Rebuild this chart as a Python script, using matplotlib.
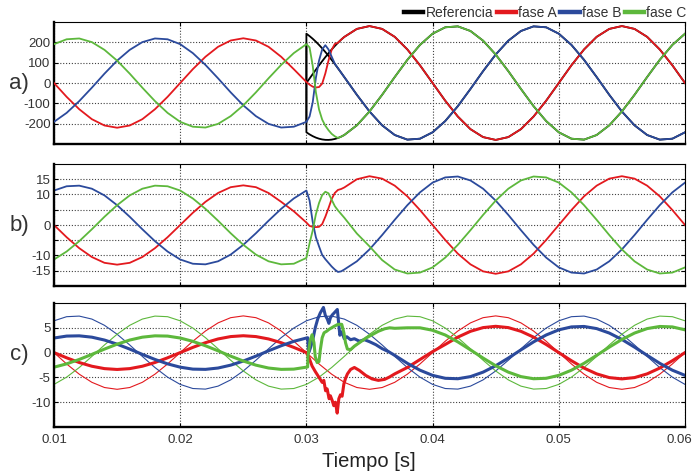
import matplotlib
matplotlib.use('Agg')
import matplotlib.pyplot as plt
from matplotlib.transforms import ScaledTranslation

plt.rcParams['font.family'] = ['Liberation Sans', 'DejaVu Sans']

RED = '#e3191e'
BLUE = '#2b4a9c'
GREEN = '#5db83c'
TXT = '#333333'

# ---------------------------------------------------------------
# time bases [s]
t_pre = [0.010, 0.011, 0.012, 0.013, 0.014, 0.015, 0.016, 0.017, 0.018, 0.019,
         0.020, 0.021, 0.022, 0.023, 0.024, 0.025, 0.026, 0.027, 0.028, 0.029]
t_tr = [0.030, 0.03025, 0.0305, 0.03075, 0.031, 0.03125, 0.0315, 0.03175,
        0.032, 0.03225, 0.0325, 0.03275, 0.033]
t_post = [0.034, 0.035, 0.036, 0.037, 0.038, 0.039, 0.040, 0.041, 0.042,
          0.043, 0.044, 0.045, 0.046, 0.047, 0.048, 0.049, 0.050, 0.051,
          0.052, 0.053, 0.054, 0.055, 0.056, 0.057, 0.058, 0.059, 0.060]
t_ref_tr = [0.030, 0.030, 0.03025, 0.0305, 0.03075, 0.031, 0.03125, 0.0315,
            0.03175, 0.032, 0.03225, 0.0325, 0.03275, 0.033]

# ---------------------------------------------------------------
# a) voltages
a_red_pre = [0, -68, -129, -178, -209, -220, -209, -178, -129, -68,
             0, 68, 129, 178, 209, 220, 209, 178, 129, 68]
a_red_tr = [5, -8, -18, -22, -20, -3, 47, 110, 163, 192, 198, 213, 226.5]
a_red_post = [266, 280, 266, 227, 165, 87, 0, -87, -165, -227, -266, -280, -266,
              -227, -165, -87, 0, 87, 165, 227, 266, 280, 266, 227, 165, 87, 0]

a_blue_pre = [-191, -147, -89, -23, 46, 110, 163, 201, 219, 215,
              191, 147, 89, 23, -46, -110, -163, -201, -219, -215]
a_blue_tr = [-191, -165, -95, 25, 110, 165, 186, 165, 130, 95, 72.5, 51, 29.3]
a_blue_post = [-58.2, -140, -208.1, -255.8, -278.5, -273.9, -242.5, -187.3, -113.9,
               -29.3, 58.2, 140, 208.1, 255.8, 278.5, 273.9, 242.5, 187.3, 113.9,
               29.3, -58.2, -140, -208.1, -255.8, -278.5, -273.9, -242.5]

a_green_pre = [191, 215, 219, 201, 163, 110, 46, -23, -89, -147,
               -191, -215, -219, -201, -163, -110, -46, 23, 89, 147]
a_green_tr = [191, 175, 85, -45, -130, -180, -210, -232, -250, -262, -270.5, -263.9, -255.8]
a_green_post = [-208.1, -140, -58.2, 29.3, 113.9, 187.3, 242.5, 273.9, 278.5, 255.8,
                208.1, 140, 58.2, -29.3, -113.9, -187.3, -242.5, -273.9, -278.5,
                -255.8, -208.1, -140, -58.2, 29.3, 113.9, 187.3, 242.5]

ref_a_tr = [0, 0, 22, 43.8, 65.4, 86.5, 107.2, 127.1, 146.3, 164.6, 181.8, 198, 212.9, 226.5]
ref_b_tr = [-191, 242.5, 230.7, 217.6, 203.1, 187.3, 170.5, 152.5, 133.6, 113.9,
            93.5, 72.5, 51.0, 29.3]
ref_c_tr = [191, -242.5, -252.7, -261.4, -268.5, -273.9, -277.6, -279.6, -279.9,
            -278.5, -275.3, -270.5, -263.9, -255.8]

# ---------------------------------------------------------------
# b) currents
b_red_pre = [0, -4.0, -7.6, -10.5, -12.4, -13, -12.4, -10.5, -7.6, -4.0,
             0, 4.0, 7.6, 10.5, 12.4, 13, 12.4, 10.5, 7.6, 4.5]
b_red_tr = [0.8, -0.3, -0.6, -0.7, -0.6, 0.3, 2.7, 5.5, 8.5, 10.5, 11.5, 11.8, 12.3]
b_red_post = [15.0, 16, 15.2, 12.9, 9.4, 4.9, 0, -4.9, -9.4, -12.9, -15.2, -16, -15.2,
              -12.9, -9.4, -4.9, 0, 4.9, 9.4, 12.9, 15.2, 16, 15.2, 12.9, 9.4, 4.9, 0]

b_blue_pre = [11.3, 12.7, 12.9, 11.9, 9.7, 6.5, 2.7, -1.4, -5.3, -8.7,
              -11.3, -12.7, -12.9, -11.9, -9.7, -6.5, -2.7, 1.4, 5.3, 8.7]
b_blue_tr = [11.3, 8.0, 1.0, -4.0, -7.0, -9.8, -11.2, -12.4, -13.6, -14.6, -15.4, -15.2, -14.6]
b_blue_post = [-11.9, -8.0, -3.3, 1.7, 6.5, 10.7, 13.9, 15.6, 15.9, 14.6, 11.9, 8.0,
               3.3, -1.7, -6.5, -10.7, -13.9, -15.6, -15.9, -14.6, -11.9, -8.0,
               -3.3, 1.7, 6.5, 10.7, 13.9]

b_green_pre = [-11.3, -8.7, -5.3, -1.4, 2.7, 6.5, 9.7, 11.9, 12.9, 12.7,
               11.3, 8.7, 5.3, 1.4, -2.7, -6.5, -9.7, -11.9, -12.9, -12.7]
b_green_tr = [-10.8, -6.0, -1.8, 3.5, 7.2, 9.8, 10.9, 10.4, 8.3, 6.2, 4.8, 3.6, 2.4]
b_green_post = [-2.8, -7.0, -11.5, -14.6, -15.9, -15.6, -13.9, -10.7, -6.5, -1.7, 3.3,
                8.0, 11.9, 14.6, 15.9, 15.6, 13.9, 10.7, 6.5, 1.7, -3.3, -8.0,
                -11.9, -14.6, -15.9, -15.6, -13.9]

# ---------------------------------------------------------------
# c) reference currents (thin) and measured currents (thick)
t_full = t_pre + [0.030, 0.031, 0.032, 0.033] + t_post
c_thin_red = [0, -2.29, -4.35, -5.99, -7.04, -7.4, -7.04, -5.99, -4.35, -2.29,
              0, 2.29, 4.35, 5.99, 7.04, 7.4, 7.04, 5.99, 4.35, 2.29,
              0, -2.29, -4.35, -5.99, -7.04, -7.4, -7.04, -5.99, -4.35, -2.29,
              0, 2.29, 4.35, 5.99, 7.04, 7.4, 7.04, 5.99, 4.35, 2.29,
              0, -2.29, -4.35, -5.99, -7.04, -7.4, -7.04, -5.99, -4.35, -2.29, 0]
c_thin_blue = [6.41, 7.24, 7.36, 6.76, 5.50, 3.70, 1.54, -0.77, -3.01, -4.95,
               -6.41, -7.24, -7.36, -6.76, -5.50, -3.70, -1.54, 0.77, 3.01, 4.95,
               6.41, 7.24, 7.36, 6.76, 5.50, 3.70, 1.54, -0.77, -3.01, -4.95,
               -6.41, -7.24, -7.36, -6.76, -5.50, -3.70, -1.54, 0.77, 3.01, 4.95,
               6.41, 7.24, 7.36, 6.76, 5.50, 3.70, 1.54, -0.77, -3.01, -4.95, -6.41]
c_thin_green = [-6.41, -4.95, -3.01, -0.77, 1.54, 3.70, 5.50, 6.76, 7.36, 7.24,
                6.41, 4.95, 3.01, 0.77, -1.54, -3.70, -5.50, -6.76, -7.36, -7.24,
                -6.41, -4.95, -3.01, -0.77, 1.54, 3.70, 5.50, 6.76, 7.36, 7.24,
                6.41, 4.95, 3.01, 0.77, -1.54, -3.70, -5.50, -6.76, -7.36, -7.24,
                -6.41, -4.95, -3.01, -0.77, 1.54, 3.70, 5.50, 6.76, 7.36, 7.24, 6.41]

t_c_post = t_post[3:]
c_red_pre = [0, -1.05, -2.0, -2.75, -3.23, -3.4, -3.23, -2.75, -2.0, -1.05,
             0, 1.05, 2.0, 2.75, 3.23, 3.4, 3.23, 2.75, 2.0, 1.05]
c_red_tr_t = [0.0300, 0.0302, 0.03045, 0.0307, 0.03085, 0.0310, 0.03125, 0.03138,
              0.03152, 0.03164, 0.0318, 0.0319, 0.03205, 0.03217, 0.0323, 0.03244,
              0.03257, 0.0327, 0.03283, 0.03297, 0.0331, 0.03325, 0.0335, 0.0338,
              0.0342, 0.0347, 0.0352, 0.0357, 0.0362, 0.0366]
c_red_tr = [0.0, -1.0, -2.7, -3.8, -4.4, -5.0, -6.0, -5.6, -7.7, -7.3, -9.3, -8.7,
            -9.7, -10.7, -10.0, -12.2, -9.3, -8.5, -8.8, -6.3, -5.2, -4.3, -3.4,
            -3.0, -3.6, -4.6, -5.3, -5.6, -5.4, -4.9]
c_red_post = [-4.29, -3.0, -1.4, 0.2, 1.64, 3.12, 4.29, 5.04, 5.3, 5.04, 4.29, 3.12,
              1.64, 0, -1.64, -3.12, -4.29, -5.04, -5.3, -5.04, -4.29, -3.12, -1.64, 0]

c_blue_pre = [2.94, 3.33, 3.38, 3.11, 2.53, 1.70, 0.71, -0.36, -1.38, -2.27,
              -2.94, -3.33, -3.38, -3.11, -2.53, -1.70, -0.71, 0.36, 1.38, 2.27]
c_blue_tr_t = [0.0300, 0.0301, 0.03018, 0.0303, 0.0305, 0.0307, 0.0309, 0.0311,
               0.03135, 0.0315, 0.03165, 0.03178, 0.0319, 0.03205, 0.0322, 0.03245,
               0.03265, 0.0328, 0.0330, 0.0332, 0.0335, 0.0338, 0.0342, 0.0346,
               0.0350, 0.0355, 0.0360, 0.0365]
c_blue_tr = [2.94, 3.0, 0.0, 0.8, 2.5, 5.0, 6.8, 8.0, 9.1, 7.5, 6.8, 5.9, 7.0, 7.6,
             8.0, 8.7, 3.5, 4.2, 2.8, 3.2, 2.6, 2.8, 2.3, 2.6, 2.2, 1.6, 0.8, 0.2]
c_blue_post = [-0.55, -2.16, -3.55, -4.59, -5.18, -5.27, -4.84, -3.94, -2.65, -1.10,
               0.55, 2.16, 3.55, 4.59, 5.18, 5.27, 4.84, 3.94, 2.65, 1.10, -0.55,
               -2.16, -3.55, -4.59]

c_green_pre = [-2.94, -2.27, -1.38, -0.36, 0.71, 1.70, 2.53, 3.11, 3.38, 3.33,
               2.94, 2.27, 1.38, 0.36, -0.71, -1.70, -2.53, -3.11, -3.38, -3.33]
c_green_tr_t = [0.0300, 0.0301, 0.03012, 0.0302, 0.0303, 0.03045, 0.0306, 0.0307,
                0.03085, 0.0310, 0.0311, 0.03125, 0.0314, 0.0316, 0.0318, 0.0322,
                0.0325, 0.0328, 0.03297, 0.0331, 0.03325, 0.0335, 0.0338, 0.0342,
                0.0347, 0.0352, 0.0357, 0.0362, 0.0366]
c_green_tr = [-2.94, -2.9, -0.8, 0.7, 2.5, 3.6, 2.0, -0.8, -2.0, -1.8, 0.5, 3.0, 4.0,
              4.3, 4.7, 5.3, 5.7, 5.7, 4.0, 2.0, 0.7, 0.6, 1.3, 2.0, 2.9, 3.6, 4.3,
              4.8, 5.0]
c_green_post = [4.9, 5.0, 5.0, 4.5, 3.55, 2.16, 0.55, -1.10, -2.65, -3.94, -4.84,
                -5.27, -5.18, -4.59, -3.55, -2.16, -0.55, 1.10, 2.65, 3.94, 4.84,
                5.27, 5.18, 4.59]

x_ticks = [0.01, 0.02, 0.03, 0.04, 0.05, 0.06]
x_ticklabels = ['0.01', '0.02', '0.03', '0.04', '0.05', '0.06']
legend_labels = ['Referencia', 'fase A', 'fase B', 'fase C']

# ---------------------------------------------------------------
W, H = 696, 473
fig = plt.figure(figsize=(W / 100, H / 100), dpi=100)
ax_a = fig.add_axes([54 / W, 1 - 144 / H, 631 / W, 122 / H])
ax_b = fig.add_axes([54 / W, 1 - 286 / H, 631 / W, 122 / H])
ax_c = fig.add_axes([54 / W, 1 - 427 / H, 631 / W, 124 / H])


def style(ax, ylim, yticks, ylabels):
    ax.set_xlim(0.01, 0.06)
    ax.set_ylim(*ylim)
    ax.set_xticks(x_ticks)
    ax.set_yticks(yticks)
    ax.set_yticklabels(ylabels)
    ax.grid(True, color='0.25', linestyle=(0, (1, 1.6)), linewidth=0.8)
    ax.tick_params(direction='in', length=3, width=0.8, top=True, right=True,
                   labelsize=9.5, labelcolor=TXT, pad=2.5)
    for s in ['left', 'bottom']:
        ax.spines[s].set_linewidth(1.7)
    for s in ['top', 'right']:
        ax.spines[s].set_linewidth(0.8)


# a)
t_a = t_pre + t_tr + t_post
t_ref = t_ref_tr + t_post
lw = 1.3
h_ref, = ax_a.plot(t_ref, ref_a_tr + a_red_post, color='black', lw=lw, zorder=2)
ax_a.plot(t_ref, ref_b_tr + a_blue_post, color='black', lw=lw, zorder=2)
ax_a.plot(t_ref, ref_c_tr + a_green_post, color='black', lw=lw, zorder=2)
h_a, = ax_a.plot(t_a, a_red_pre + a_red_tr + a_red_post, color=RED, lw=lw, zorder=3)
h_b, = ax_a.plot(t_a, a_blue_pre + a_blue_tr + a_blue_post, color=BLUE, lw=lw, zorder=3)
h_c, = ax_a.plot(t_a, a_green_pre + a_green_tr + a_green_post, color=GREEN, lw=lw, zorder=3)
style(ax_a, (-300, 300), [-200, -100, 0, 100, 200], ['-200', '-100', '0', '100', '200'])
ax_a.tick_params(labelbottom=False)

leg = ax_a.legend([h_ref, h_a, h_b, h_c], legend_labels, loc='lower right',
                  bbox_to_anchor=(1.006, 1.0), ncol=4, frameon=False, fontsize=10,
                  handlelength=1.4, handletextpad=0.15, columnspacing=0.25,
                  borderpad=0, borderaxespad=0.15)
for h in leg.legend_handles:
    h.set_linewidth(3.2)
for txt in leg.get_texts():
    txt.set_color(TXT)

# b)
ax_b.plot(t_a, b_red_pre + b_red_tr + b_red_post, color=RED, lw=lw)
ax_b.plot(t_a, b_blue_pre + b_blue_tr + b_blue_post, color=BLUE, lw=lw)
ax_b.plot(t_a, b_green_pre + b_green_tr + b_green_post, color=GREEN, lw=lw)
style(ax_b, (-20, 20), [-15, -10, -5, 0, 5, 10, 15], ['-15', '-10', '', '0', '', '10', '15'])
ax_b.tick_params(labelbottom=False)

# c)
ax_c.plot(t_full, c_thin_red, color=RED, lw=0.8)
ax_c.plot(t_full, c_thin_blue, color=BLUE, lw=0.8)
ax_c.plot(t_full, c_thin_green, color=GREEN, lw=0.8)
ax_c.plot(t_pre + c_red_tr_t + t_c_post, c_red_pre + c_red_tr + c_red_post,
          color=RED, lw=2.2)
ax_c.plot(t_pre + c_blue_tr_t + t_c_post, c_blue_pre + c_blue_tr + c_blue_post,
          color=BLUE, lw=2.2)
ax_c.plot(t_pre + c_green_tr_t + t_c_post, c_green_pre + c_green_tr + c_green_post,
          color=GREEN, lw=2.2)
style(ax_c, (-15, 10), [-10, -5, 0, 5], ['-10', '-5', '0', '5'])
ax_c.set_xticklabels(x_ticklabels)
ax_c.tick_params(axis='x', pad=5)
# the last label sits a little left of its tick so it stays inside the picture
last = ax_c.get_xticklabels()[-1]
last.set_transform(last.get_transform() + ScaledTranslation(-4 / 72, 0, fig.dpi_scale_trans))

# panel letters and axis title
fig.text(19 / W, 1 - 83 / H, 'a)', fontsize=16, ha='center', va='center', color=TXT)
fig.text(19 / W, 1 - 225 / H, 'b)', fontsize=16, ha='center', va='center', color=TXT)
fig.text(19 / W, 1 - 354 / H, 'c)', fontsize=16, ha='center', va='center', color=TXT)
fig.text(369 / W, 1 - 461 / H, 'Tiempo [s]', fontsize=14.5, ha='center', va='center',
         color='#222222')

fig.savefig('out.png', dpi=100)
